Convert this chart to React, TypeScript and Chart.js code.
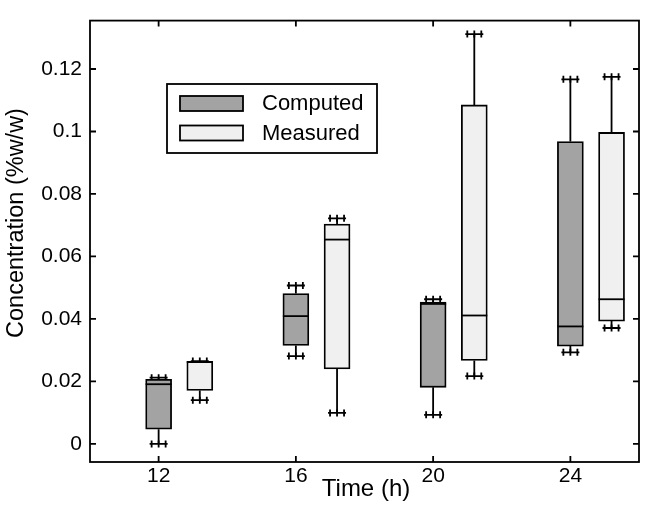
import React, { useEffect, useRef } from "react";
import { Chart, registerables } from "chart.js";

Chart.register(...registerables);

const times = [12, 16, 20, 24];
const measuredOffset = 1.2;

const computedLow = [0.0, 0.0281, 0.0093, 0.0293];
const computedQ1 = [0.0047, 0.0315, 0.0181, 0.0313];
const computedMedian = [0.0191, 0.0409, 0.0448, 0.0376];
const computedQ3 = [0.0207, 0.0481, 0.0454, 0.0968];
const computedHigh = [0.0212, 0.0507, 0.0463, 0.1167];

const measuredLow = [0.014, 0.0099, 0.0217, 0.0371];
const measuredQ1 = [0.0171, 0.024, 0.0267, 0.0393];
const measuredMedian = [0.0262, 0.0654, 0.0411, 0.0463];
const measuredQ3 = [0.0264, 0.0704, 0.1085, 0.0997];
const measuredHigh = [0.0265, 0.0722, 0.1312, 0.1175];

const xTicks = [12, 16, 20, 24];
const yTicks = [0, 0.02, 0.04, 0.06, 0.08, 0.1, 0.12];

const xTitle = "Time (h)";
const yTitle = "Concentration (%w/w)";

const FONT = "'Liberation Sans', Arial, sans-serif";
const BOX_W = 26;
const LW = 1.8;

const series = [
  {
    label: "Computed",
    color: "#a3a3a3",
    xs: times.map((t) => t),
    low: computedLow,
    q1: computedQ1,
    med: computedMedian,
    q3: computedQ3,
    high: computedHigh,
  },
  {
    label: "Measured",
    color: "#f0f0f0",
    xs: times.map((t) => t + measuredOffset),
    low: measuredLow,
    q1: measuredQ1,
    med: measuredMedian,
    q3: measuredQ3,
    high: measuredHigh,
  },
];

const extrasPlugin = {
  id: "boxExtras",
  beforeDatasetsDraw(chart: any) {
    const { ctx } = chart;
    const x = chart.scales.x;
    const y = chart.scales.y;
    ctx.save();
    ctx.strokeStyle = "#000";
    ctx.lineWidth = LW;
    series.forEach((s) => {
      s.xs.forEach((xv, i) => {
        const cx = x.getPixelForValue(xv);
        const pLow = y.getPixelForValue(s.low[i]);
        const pQ1 = y.getPixelForValue(s.q1[i]);
        const pQ3 = y.getPixelForValue(s.q3[i]);
        const pHigh = y.getPixelForValue(s.high[i]);
        ctx.beginPath();
        ctx.moveTo(cx, pQ1);
        ctx.lineTo(cx, pLow);
        ctx.moveTo(cx, pQ3);
        ctx.lineTo(cx, pHigh);
        ctx.stroke();
        [pLow, pHigh].forEach((py) => {
          ctx.beginPath();
          ctx.moveTo(cx - 9, py);
          ctx.lineTo(cx + 9, py);
          ctx.moveTo(cx - 7, py - 3.5);
          ctx.lineTo(cx - 7, py + 3.5);
          ctx.moveTo(cx + 7, py - 3.5);
          ctx.lineTo(cx + 7, py + 3.5);
          ctx.moveTo(cx, py - 3.5);
          ctx.lineTo(cx, py + 3.5);
          ctx.stroke();
        });
      });
    });
    ctx.restore();
  },
  afterDatasetsDraw(chart: any) {
    const { ctx } = chart;
    const x = chart.scales.x;
    const y = chart.scales.y;
    ctx.save();
    ctx.strokeStyle = "#000";
    ctx.lineWidth = LW;
    series.forEach((s) => {
      s.xs.forEach((xv, i) => {
        const cx = x.getPixelForValue(xv);
        const pm = y.getPixelForValue(s.med[i]);
        ctx.beginPath();
        ctx.moveTo(cx - BOX_W / 2, pm);
        ctx.lineTo(cx + BOX_W / 2, pm);
        ctx.stroke();
      });
    });
    ctx.restore();
  },
  afterDraw(chart: any) {
    const { ctx, chartArea: a } = chart;
    const x = chart.scales.x;
    const y = chart.scales.y;
    ctx.save();
    ctx.strokeStyle = "#000";
    ctx.lineWidth = LW;
    ctx.strokeRect(a.left, a.top, a.right - a.left, a.bottom - a.top);
    const TL = 6;
    ctx.beginPath();
    xTicks.forEach((v) => {
      const px = x.getPixelForValue(v);
      ctx.moveTo(px, a.bottom);
      ctx.lineTo(px, a.bottom - TL);
      ctx.moveTo(px, a.top);
      ctx.lineTo(px, a.top + TL);
    });
    yTicks.forEach((v) => {
      const py = y.getPixelForValue(v);
      ctx.moveTo(a.left, py);
      ctx.lineTo(a.left + TL, py);
      ctx.moveTo(a.right, py);
      ctx.lineTo(a.right - TL, py);
    });
    ctx.stroke();

    // axis titles
    ctx.fillStyle = "#000";
    ctx.textAlign = "center";
    ctx.textBaseline = "middle";
    ctx.font = `24px ${FONT}`;
    ctx.fillText(xTitle, 366, 489);
    ctx.save();
    ctx.translate(17, 223);
    ctx.rotate(-Math.PI / 2);
    ctx.font = `23.5px ${FONT}`;
    ctx.fillText(yTitle, 0, 0);
    ctx.restore();

    // legend
    const lx = 167, ly = 84, lw = 210, lh = 69;
    ctx.fillStyle = "#fff";
    ctx.fillRect(lx, ly, lw, lh);
    ctx.strokeRect(lx, ly, lw, lh);
    ctx.font = `22px ${FONT}`;
    ctx.textBaseline = "middle";
    ctx.textAlign = "left";
    series.forEach((s, i) => {
      const sy = 96 + i * 29.5;
      ctx.fillStyle = s.color;
      ctx.fillRect(180, sy, 63, 15);
      ctx.strokeRect(180, sy, 63, 15);
      ctx.fillStyle = "#000";
      ctx.fillText(s.label, 262, sy + 8);
    });
    ctx.restore();
  },
};

export default function App() {
  const ref = useRef<HTMLCanvasElement | null>(null);
  useEffect(() => {
    if (!ref.current) return;
    const chart = new Chart(ref.current, {
      type: "bar",
      data: {
        datasets: series.map((s) => ({
          label: s.label,
          data: s.xs.map((xv, i) => ({ x: xv, y: [s.q1[i], s.q3[i]] })),
          backgroundColor: s.color,
          borderColor: "#000",
          borderWidth: LW,
          borderSkipped: false,
          barThickness: BOX_W,
          grouped: false,
        })) as any,
      },
      options: {
        animation: false,
        responsive: true,
        maintainAspectRatio: false,
        layout: { padding: { left: 0, right: 8, top: 7, bottom: 0 } },
        plugins: { legend: { display: false }, tooltip: { enabled: false } },
        scales: {
          x: {
            type: "linear",
            min: 10,
            max: 26,
            offset: false,
            grid: { display: false, drawTicks: false },
            border: { display: false },
            afterBuildTicks: (sc: any) => {
              sc.ticks = xTicks.map((v) => ({ value: v }));
            },
            afterFit: (sc: any) => {
              sc.height = 49;
            },
            ticks: {
              padding: 2,
              color: "#000",
              font: { family: FONT, size: 21 },
              maxRotation: 0,
              callback: (v: any) => String(v),
            },
          },
          y: {
            type: "linear",
            min: -0.0058,
            max: 0.1355,
            grid: { display: false, drawTicks: false },
            border: { display: false },
            afterBuildTicks: (sc: any) => {
              sc.ticks = yTicks.map((v) => ({ value: v }));
            },
            afterFit: (sc: any) => {
              sc.width = 90;
            },
            ticks: {
              padding: 8,
              color: "#000",
              font: { family: FONT, size: 21 },
              callback: (v: any) => String(+Number(v).toFixed(2)),
            },
          },
        },
      },
      plugins: [extrasPlugin],
    });
    return () => chart.destroy();
  }, []);
  return (
    <div style={{ position: "fixed", left: 0, top: 0, width: 647, height: 511, background: "#fff" }}>
      <canvas ref={ref} />
    </div>
  );
}
